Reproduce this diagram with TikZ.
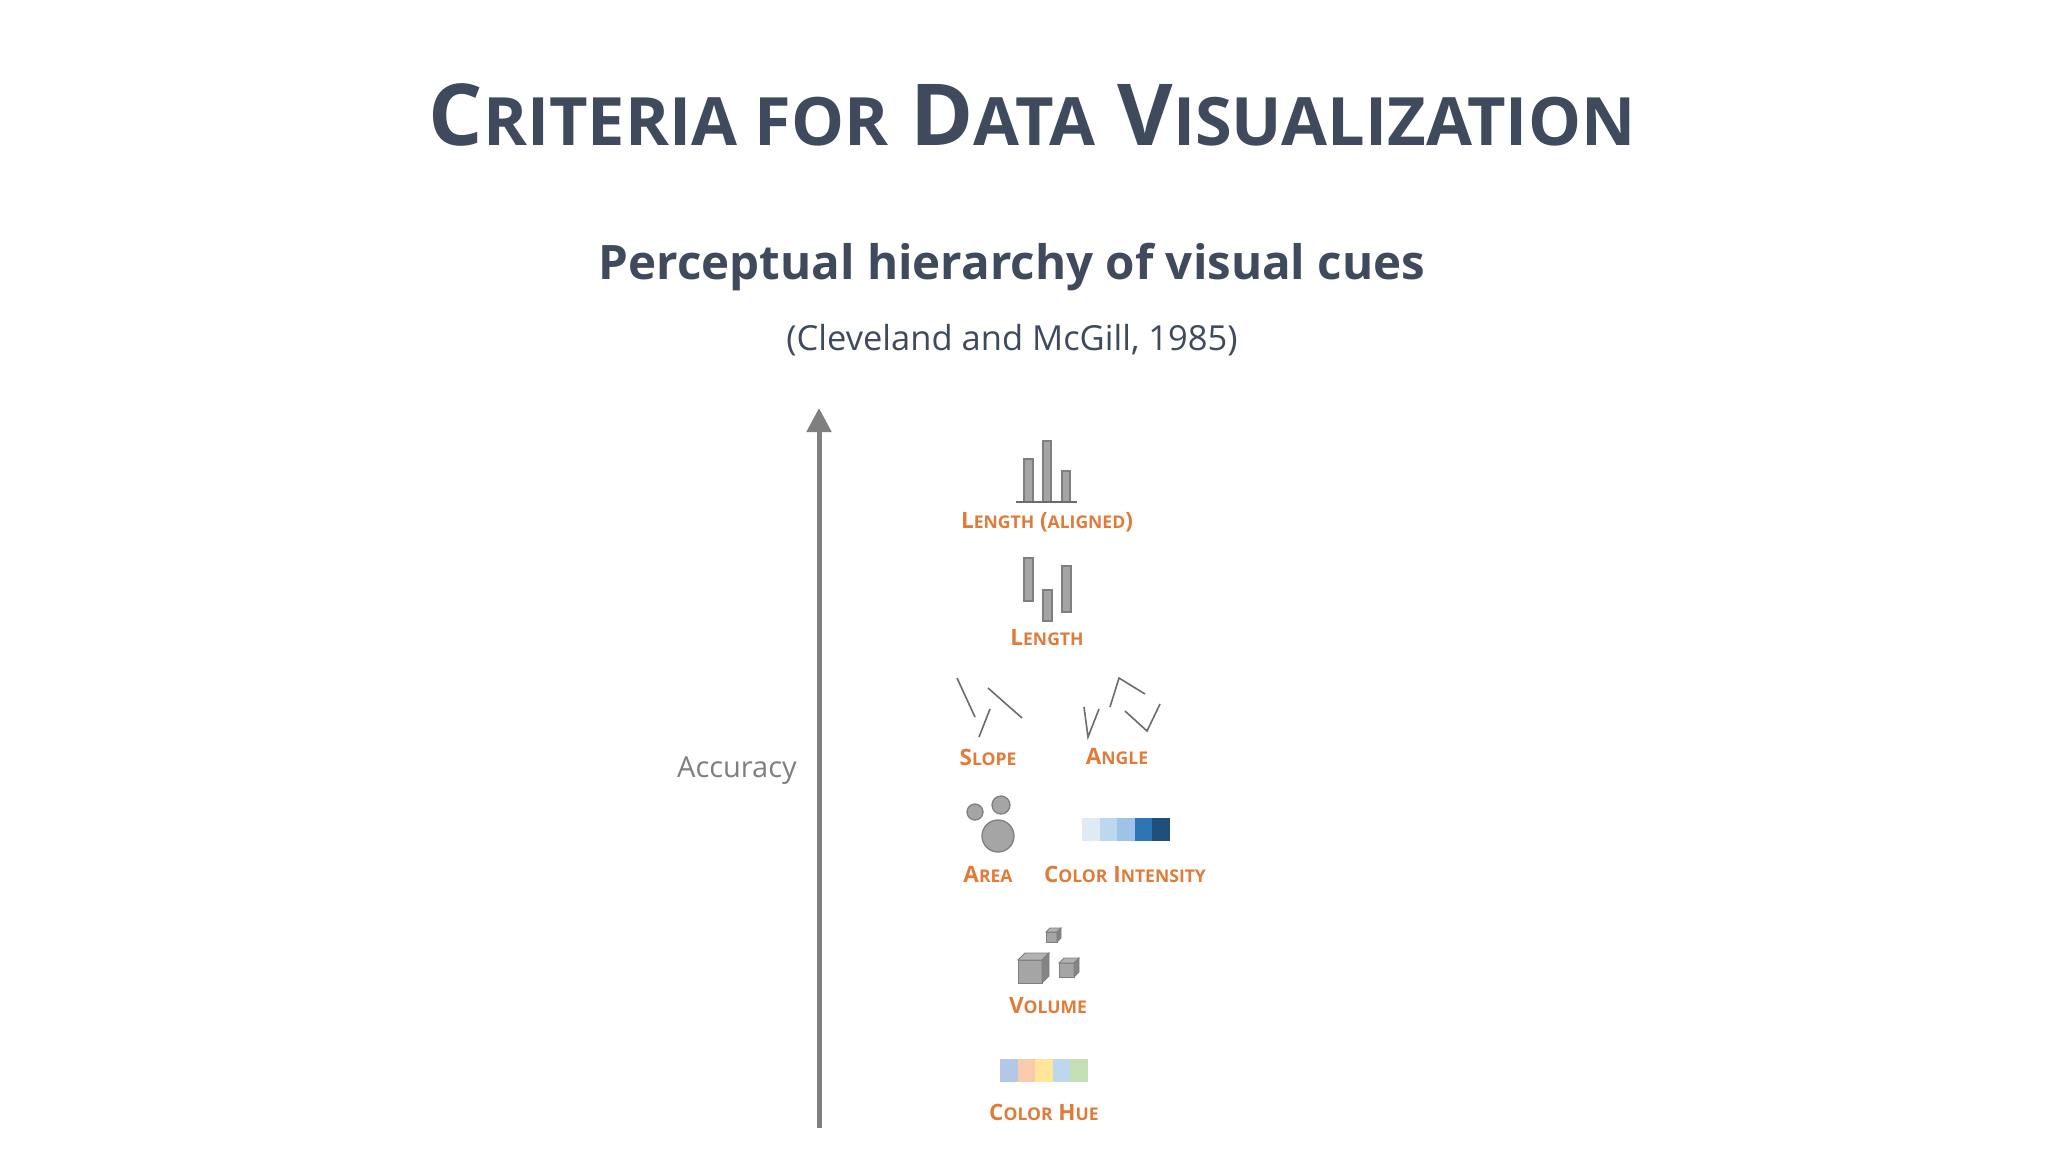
\documentclass[tikz,border=0pt]{standalone}
\usepackage{fontspec}
\usepackage{graphicx}
\usetikzlibrary{arrows.meta}
\setmainfont{Open Sans}
\definecolor{slate}{HTML}{3F4A5C}
\definecolor{org}{HTML}{E07B39}
\definecolor{gr}{HTML}{7F7F7F}
\definecolor{fillg}{HTML}{A5A5A5}
\newcommand\sm[1]{\scalebox{0.78}{#1}}
\tikzset{
  lab/.style={text=org,font=\bfseries\fontsize{22.5}{26}\selectfont,inner sep=0pt,anchor=center},
  bar/.style={draw=gr,fill=fillg,line width=1.3pt},
  ln/.style={draw=gr!85!black,line width=1.6pt},
}
\begin{document}
\begin{tikzpicture}[x=1pt,y=-1pt]
\useasboundingbox (0,0) rectangle (2048,1152);
\fill[white] (0,0) rectangle (2048,1152);
\node[text=slate,font=\bfseries\fontsize{85.5}{100}\selectfont,inner sep=0pt] (title) at (1032,115) {C\sm{RITERIA FOR} D\sm{ATA} V\sm{ISUALIZATION}};
\node[text=slate,font=\bfseries\fontsize{47.5}{58}\selectfont,inner sep=0pt] (sub) at (1012,267) {Perceptual hierarchy of visual cues};
\node[text=slate,font=\fontsize{34.5}{42}\selectfont,inner sep=0pt] (cite) at (1012,340) {(Cleveland and McGill, 1985)};
\coordinate (abot) at (819,1128);
\coordinate (atop) at (819,408);
\draw[gr,line width=5pt,-{Triangle[length=24pt,width=24pt]}] (abot) -- (atop);
\node[text=gr,font=\fontsize{29}{34}\selectfont,inner sep=0pt] (acc) at (737,771) {Accuracy};
% length aligned
\draw[bar] (1024,502) rectangle (1033,459);
\draw[bar] (1043,502) rectangle (1051,441);
\draw[bar] (1062,502) rectangle (1070,471);
\draw[gr!85!black,line width=1.5pt] (1016,502) -- (1077,502);
\node[lab] (la) at (1047,522) {L\sm{ENGTH} (\sm{ALIGNED})};
% length
\draw[bar] (1024,558) rectangle (1033,601);
\draw[bar] (1043,590) rectangle (1052,621);
\draw[bar] (1062,566) rectangle (1071,612);
\node[lab] (l) at (1047,638) {L\sm{ENGTH}};
% slope
\draw[ln] (957,678) -- (975,717);
\draw[ln] (988,688) -- (1022,718);
\draw[ln] (990,709) -- (979,737);
\node[lab] (s) at (988,757) {S\sm{LOPE}};
% angle
\draw[ln] (1084,707) -- (1088,737) -- (1099,709);
\draw[ln] (1110,707) -- (1119,678) -- (1145,694);
\draw[ln] (1125,711) -- (1147,731) -- (1160,704);
\node[lab] (an) at (1117,757) {A\sm{NGLE}};
% area
\draw[bar] (975,812) circle (8);
\draw[bar] (1001,805) circle (9);
\draw[bar] (998,836) circle (16);
\node[lab] (ar) at (988,874) {A\sm{REA}};
% color intensity
\foreach \c [count=\i from 0] in {DEEBF7,BDD7EE,9DC3E6,2E75B6,1F4E79}{
  \definecolor{tmp}{HTML}{\c}
  \fill[tmp] (1082+17.6*\i,818) rectangle (1082+17.6*\i+17.6,841);
}
\node[lab] (ci) at (1125,874) {C\sm{OLOR} I\sm{NTENSITY}};
% volume
\foreach \x/\y/\w/\d in {1018/960/24/7, 1046/932/11/4, 1059/963/15/5}{
  \draw[draw=gr,fill=fillg,line width=0.8pt] (\x,\y) rectangle (\x+\w,\y+\w-1);
  \draw[draw=gr,fill=fillg!85!white,line width=0.8pt] (\x,\y) -- (\x+\d,\y-\d) -- (\x+\w+\d,\y-\d) -- (\x+\w,\y) -- cycle;
  \draw[draw=gr,fill=fillg!80!black,line width=0.8pt] (\x+\w,\y) -- (\x+\w+\d,\y-\d) -- (\x+\w+\d,\y+\w-1-\d) -- (\x+\w,\y+\w-1) -- cycle;
}
\node[lab] (v) at (1048,1006) {V\sm{OLUME}};
% color hue
\foreach \c [count=\i from 0] in {B4C7E7,F8CBAD,FFE699,BDD7EE,C5E0B4}{
  \definecolor{tmp}{HTML}{\c}
  \fill[tmp] (1000+17.6*\i,1059) rectangle (1000+17.6*\i+17.6,1082);
}
\node[lab] (ch) at (1044,1112) {C\sm{OLOR} H\sm{UE}};
\end{tikzpicture}
\end{document}
